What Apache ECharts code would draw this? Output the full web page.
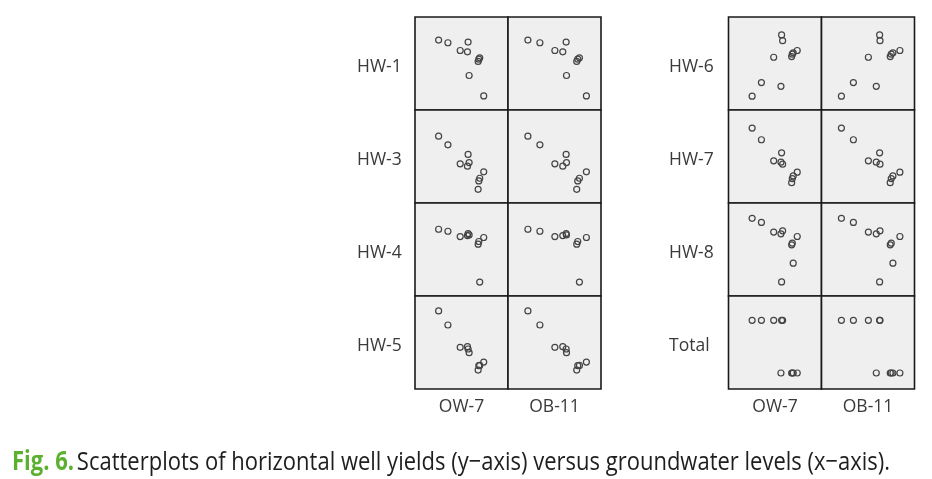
<!DOCTYPE html>
<html><head><meta charset="utf-8">
<script src="https://cdn.jsdelivr.net/npm/echarts@6/dist/echarts.min.js"></script>
<style>html,body{margin:0;padding:0;background:#fff}#c{width:932px;height:479px}</style>
</head><body><div id="c"></div>
<script>
// Groundwater levels (x, relative units 0-100) for the 10 observations
const ow7 = [25.4, 35.4, 48.6, 56.4, 57.1, 58.2, 67.9, 68.6, 69.6, 73.9];
const ob11 = [21.4, 34.3, 50.4, 58.9, 62.5, 62.9, 73.9, 75.0, 76.8, 84.3];
// Horizontal well yields (y, relative units 0-100)
const hw1 = [75.2, 72.3, 64.0, 62.6, 73.0, 37.1, 52.2, 54.7, 56.1, 15.1];
const hw3 = [71.9, 62.6, 42.1, 39.6, 52.2, 43.5, 14.7, 23.7, 26.6, 33.5];
const hw4 = [71.8, 69.6, 63.9, 65.0, 67.1, 65.7, 55.7, 58.6, 15.0, 62.9];
const hw5 = [83.9, 68.8, 44.8, 45.5, 43.0, 39.1, 20.4, 25.1, 25.4, 29.0];
const hw6 = [14.9, 29.5, 56.7, 25.5, 80.7, 74.5, 57.5, 60.0, 61.5, 64.0];
const hw7 = [80.6, 68.0, 45.3, 43.9, 54.0, 41.7, 21.9, 26.3, 29.1, 33.1];
const hw8 = [83.5, 79.1, 68.7, 66.9, 15.1, 70.1, 55.0, 56.8, 35.3, 64.0];
const total = [73.8, 73.8, 73.8, 17.2, 73.8, 73.8, 17.2, 17.2, 17.2, 17.2];
const rowNamesLeft = ['HW-1', 'HW-3', 'HW-4', 'HW-5'];
const rowNamesRight = ['HW-6', 'HW-7', 'HW-8', 'Total'];
const colNames = ['OW-7', 'OB-11'];
const captionHead = 'Fig. 6.';
const captionBody = 'Scatterplots of horizontal well yields (y\u2212axis) versus groundwater levels (x\u2212axis).';

const leftRows = [hw1, hw3, hw4, hw5];
const rightRows = [hw6, hw7, hw8, total];
const xCols = [ow7, ob11];

const chart = echarts.init(document.getElementById('c'));
const grids = [], xAxes = [], yAxes = [], series = [], graphic = [];
const P = 93, top0 = 17;
const labelFont = '17.5px "Open Sans"';
const matrices = [
  {left: 415, rows: leftRows, names: rowNamesLeft, labelX: 357},
  {left: 728.5, rows: rightRows, names: rowNamesRight, labelX: 669}
];
matrices.forEach(m => {
  m.rows.forEach((yv, r) => {
    xCols.forEach((xv, c) => {
      const idx = grids.length;
      grids.push({left: m.left + c * P, top: top0 + r * P, width: P, height: P,
        show: true, backgroundColor: '#efefef', borderColor: '#1a1a1a', borderWidth: 1.6});
      xAxes.push({type: 'value', gridIndex: idx, min: 0, max: 100, show: false});
      yAxes.push({type: 'value', gridIndex: idx, min: 0, max: 100, show: false});
      series.push({type: 'scatter', xAxisIndex: idx, yAxisIndex: idx, symbol: 'circle', symbolSize: 6,
        itemStyle: {color: 'rgba(0,0,0,0)', borderColor: '#444', borderWidth: 1.2, opacity: 1},
        data: xv.map((x, i) => [x, yv[i]])});
    });
    graphic.push({type: 'text', x: m.labelX, y: top0 + r * P + P / 2 + 4,
      style: {text: m.names[r], font: labelFont, fill: '#3a3a3a', verticalAlign: 'middle'}});
  });
  colNames.forEach((n, c) => {
    graphic.push({type: 'text', x: m.left + c * P + P / 2, y: 407.5,
      style: {text: n, font: labelFont, fill: '#3a3a3a', align: 'center', verticalAlign: 'middle'}});
  });
});

// caption: fit to the reference width with a horizontal scale
const capFontHead = 'bold 26px "Open Sans"';
const capFontBody = '26px "Open Sans"';
const ctx = document.createElement('canvas').getContext('2d');
ctx.font = capFontHead; const wHead = ctx.measureText(captionHead + ' ').width;
ctx.font = capFontBody; const wBody = ctx.measureText(captionBody).width;
const sx = 881 / (wHead + wBody);
graphic.push({type: 'text', x: 12, y: 463, scaleX: sx, scaleY: 1,
  style: {text: '{g|' + captionHead + '} {t|' + captionBody + '}', verticalAlign: 'middle',
    rich: {g: {fill: '#5bb030', font: capFontHead},
           t: {fill: '#1e1e1e', font: capFontBody}}}});

chart.setOption({animation: false, grid: grids, xAxis: xAxes, yAxis: yAxes, series: series, graphic: graphic});
</script></body></html>
